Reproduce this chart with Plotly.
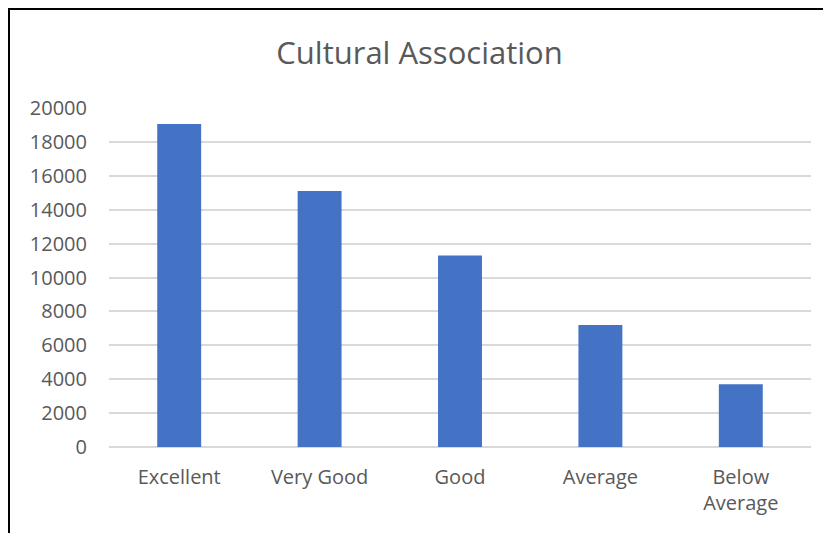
import plotly.graph_objects as go

# data
categories = ["Excellent", "Very Good", "Good", "Average", "Below<br>Average"]
counts = [19050, 15100, 11300, 7200, 3700]
y_ticks = [0, 2000, 4000, 6000, 8000, 10000, 12000, 14000, 16000, 18000, 20000]

bar_blue = "#4472c4"
txt_grey = "#595959"
grid_grey = "#d9d9d9"

# page body has an 8px margin, so the figure is a bit smaller than the window
W, H = 823, 525
L, R, T, B = 101, 20, 100, 86
plot_w = W - L - R
plot_h = H - T - B

fig = go.Figure(go.Bar(x=categories, y=counts, marker_color=bar_blue,
                       marker_line_width=0))

fig.update_layout(
    width=W, height=H,
    margin=dict(l=L, r=R, t=T, b=B),
    paper_bgcolor="white", plot_bgcolor="white",
    font=dict(family="Open Sans", size=20, color=txt_grey),
    title=dict(text="Cultural Association", x=0.5, xanchor="center",
               y=1 - 45 / H, yanchor="middle",
               font=dict(size=31, color=txt_grey)),
    bargap=0.687,
    showlegend=False,
)
fig.update_yaxes(range=[0, 20000], tickvals=y_ticks, tickformat="d",
                 showgrid=True, gridcolor=grid_grey, gridwidth=1.5,
                 zeroline=True, zerolinecolor=grid_grey, zerolinewidth=1.5,
                 ticklabelstandoff=21, showline=False)
fig.update_xaxes(showgrid=False, showline=False, ticks="",
                 ticklabelstandoff=16)

# outer frame of the picture (left and top edges visible)
fig.add_shape(type="rect", xref="paper", yref="paper",
              x0=(1 - L) / plot_w, x1=1.2, y0=-0.5, y1=1 + (T - 1) / plot_h,
              line=dict(color="black", width=2), layer="below")

fig.write_html("out.html")
